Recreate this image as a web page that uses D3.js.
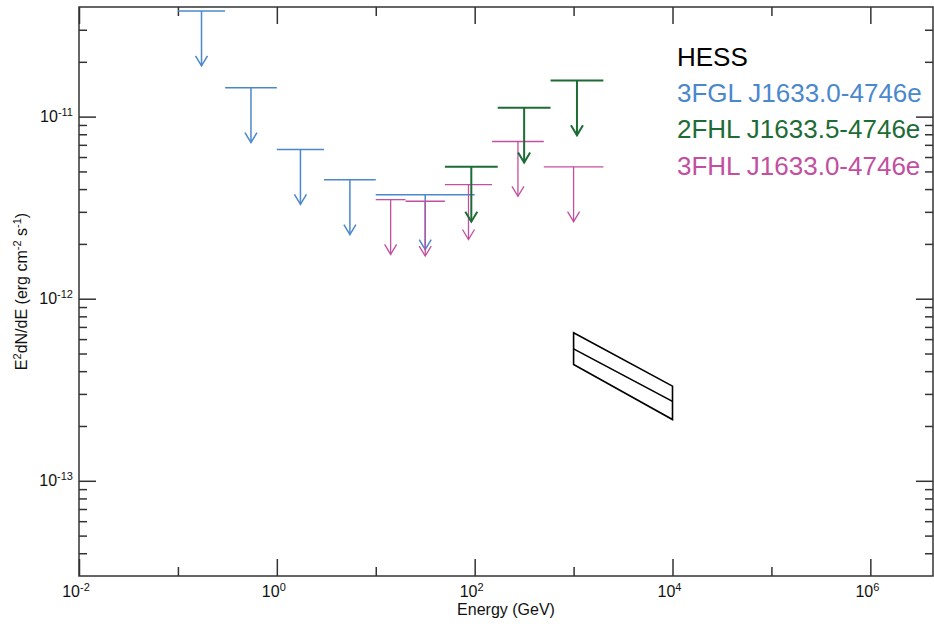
<!DOCTYPE html>
<html>
<head>
<meta charset="utf-8">
<script src="https://cdn.jsdelivr.net/npm/d3@7"></script>
<style>
  body { margin: 0; background: #fff; }
  text { font-family: "Liberation Sans", Arial, Helvetica, sans-serif; }
</style>
</head>
<body>
<div id="chart"></div>
<script>
// Upper limits: energy bins (GeV) and E^2 dN/dE values (erg cm^-2 s^-1)
const fglBins = [[0.1, 0.3], [0.3, 1], [1, 3], [3, 10], [10, 100]];
const fglFlux = [3.8e-11, 1.44e-11, 6.6e-12, 4.5e-12, 3.72e-12];

const fhl3Bins = [[10, 20], [20, 50], [50, 150], [150, 500], [500, 2000]];
const fhl3Flux = [3.5e-12, 3.43e-12, 4.23e-12, 7.3e-12, 5.3e-12];

const fhl2Bins = [[50, 171], [171, 585], [585, 2000]];
const fhl2Flux = [5.3e-12, 1.12e-11, 1.58e-11];

// HESS spectrum: best fit and error band edges at 1 and 10 TeV
const hessEnergy = [1000, 10000];
const hessFlux = [5.3e-13, 2.73e-13];
const hessLow = [4.35e-13, 2.17e-13];
const hessHigh = [6.5e-13, 3.31e-13];

const legendLabels = ["HESS", "3FGL J1633.0-4746e", "2FHL J1633.5-4746e", "3FHL J1633.0-4746e"];
const legendColors = ["#000000", "#4a88cc", "#1d6b35", "#c24f9f"];

const xMajor = [1e-2, 1e0, 1e2, 1e4, 1e6];
const xMinor = [1e-1, 1e1, 1e3, 1e5];
const yMajor = [1e-13, 1e-12, 1e-11];
const yExp = [-13, -12, -11];
const xExp = [-2, 0, 2, 4, 6];

const width = 934;
const height = 624;
const margin = {left: 79, right: 1, top: 7, bottom: 48};

const svg = d3.select("#chart").append("svg")
    .attr("width", width)
    .attr("height", height);

const x = d3.scaleLog()
    .domain([0.01, 4.3e6])
    .range([margin.left, width - margin.right]);

const y = d3.scaleLog()
    .domain([3e-14, 4e-11])
    .range([height - margin.bottom, margin.top]);

// minor y ticks: 2..9 times each decade, inside the domain
const yMinor = [];
[-14, -13, -12, -11].forEach(e => {
    for (let m = 2; m <= 9; m++) {
        const v = m * Math.pow(10, e);
        if (v > y.domain()[0] && v < y.domain()[1]) yMinor.push(v);
    }
});

const axisColor = "#333";
const x0 = margin.left, x1 = width - margin.right;
const y0 = margin.top, y1 = height - margin.bottom;

// axes with inward ticks on all four sides
function drawAxis(axis, tx, ty) {
    const g = svg.append("g")
        .attr("transform", `translate(${tx},${ty})`)
        .call(axis);
    g.select(".domain").remove();
    g.selectAll("text").remove();
    g.selectAll("line").attr("stroke", axisColor).attr("stroke-width", 1.5);
    return g;
}

drawAxis(d3.axisBottom(x).tickValues(xMajor).tickSize(-17), 0, y1);
drawAxis(d3.axisBottom(x).tickValues(xMinor).tickSize(-9), 0, y1);
drawAxis(d3.axisTop(x).tickValues(xMajor).tickSize(-17), 0, y0);
drawAxis(d3.axisTop(x).tickValues(xMinor).tickSize(-9), 0, y0);
drawAxis(d3.axisLeft(y).tickValues(yMajor).tickSize(-17), x0, 0);
drawAxis(d3.axisLeft(y).tickValues(yMinor).tickSize(-8), x0, 0);
drawAxis(d3.axisRight(y).tickValues(yMajor).tickSize(-17), x1, 0);
drawAxis(d3.axisRight(y).tickValues(yMinor).tickSize(-8), x1, 0);

svg.append("rect")
    .attr("x", x0).attr("y", y0)
    .attr("width", x1 - x0).attr("height", y1 - y0)
    .attr("fill", "none")
    .attr("stroke", axisColor)
    .attr("stroke-width", 1.5);

// tick labels as 10^n
xMajor.forEach((v, i) => {
    const t = svg.append("text")
        .attr("x", x(v) - 3)
        .attr("y", 597)
        .attr("text-anchor", "middle")
        .attr("font-size", 16)
        .attr("fill", "#111");
    t.append("tspan").text("10");
    t.append("tspan").attr("dy", -6.5).attr("font-size", 11).text(xExp[i]);
});

yMajor.forEach((v, i) => {
    const t = svg.append("text")
        .attr("x", 73)
        .attr("y", y(v) + 5.5)
        .attr("text-anchor", "end")
        .attr("font-size", 16)
        .attr("fill", "#111");
    t.append("tspan").text("10");
    t.append("tspan").attr("dy", -6.5).attr("font-size", 11).text(yExp[i]);
});

// axis titles
svg.append("text")
    .attr("x", (x0 + x1) / 2)
    .attr("y", 615)
    .attr("text-anchor", "middle")
    .attr("font-size", 16)
    .attr("fill", "#111")
    .text("Energy (GeV)");

const yTitle = svg.append("text")
    .attr("transform", `translate(27,${(y0 + y1) / 2}) rotate(-90)`)
    .attr("text-anchor", "middle")
    .attr("font-size", 16)
    .attr("fill", "#111");
yTitle.append("tspan").text("E");
yTitle.append("tspan").attr("dy", -6.5).attr("font-size", 11).text("2");
yTitle.append("tspan").attr("dy", 6.5).text("dN/dE (erg cm");
yTitle.append("tspan").attr("dy", -6.5).attr("font-size", 11).text("-2");
yTitle.append("tspan").attr("dy", 6.5).text(" s");
yTitle.append("tspan").attr("dy", -6.5).attr("font-size", 11).text("-1");
yTitle.append("tspan").attr("dy", 6.5).text(")");

// upper limit: bar over the bin, arrow down to half the value
function drawLimits(bins, flux, color, lw) {
    const g = svg.append("g")
        .attr("stroke", color)
        .attr("stroke-width", lw)
        .attr("fill", "none");
    bins.forEach((b, i) => {
        const xc = x(Math.sqrt(b[0] * b[1]));
        const yt = y(flux[i]);
        const yb = y(flux[i] / 2);
        g.append("line")
            .attr("x1", x(b[0])).attr("x2", x(b[1]))
            .attr("y1", yt).attr("y2", yt);
        g.append("line")
            .attr("x1", xc).attr("x2", xc)
            .attr("y1", yt).attr("y2", yb);
        g.append("path")
            .attr("d", `M${xc - 6},${yb - 10}L${xc},${yb}L${xc + 6},${yb - 10}`);
    });
}

drawLimits(fglBins, fglFlux, legendColors[1], 1.5);
drawLimits(fhl3Bins, fhl3Flux, legendColors[3], 1.3);
drawLimits(fhl2Bins, fhl2Flux, legendColors[2], 2);

// HESS band
const hess = svg.append("g")
    .attr("stroke", "#000")
    .attr("stroke-width", 1.6)
    .attr("fill", "none");
hess.append("path")
    .attr("d", `M${x(hessEnergy[0])},${y(hessHigh[0])}` +
        `L${x(hessEnergy[1])},${y(hessHigh[1])}` +
        `L${x(hessEnergy[1])},${y(hessLow[1])}` +
        `L${x(hessEnergy[0])},${y(hessLow[0])}Z`);
hess.append("line")
    .attr("x1", x(hessEnergy[0])).attr("y1", y(hessFlux[0]))
    .attr("x2", x(hessEnergy[1])).attr("y2", y(hessFlux[1]));

// legend
svg.append("g")
    .selectAll("text")
    .data(legendLabels)
    .join("text")
    .attr("x", 677)
    .attr("y", (d, i) => 66 + i * 36.2)
    .attr("font-size", 26)
    .attr("fill", (d, i) => legendColors[i])
    .text(d => d);
</script>
</body>
</html>
